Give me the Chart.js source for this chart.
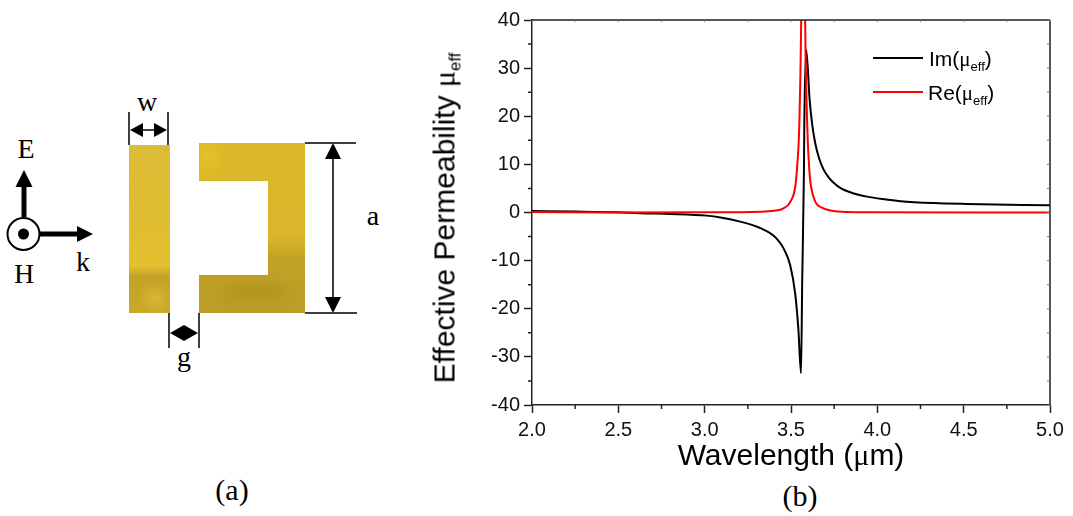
<!DOCTYPE html>
<html>
<head>
<meta charset="utf-8">
<script src="https://cdn.jsdelivr.net/npm/chart.js@4"></script>
<style>
    html, body { margin: 0; padding: 0; background: #fff; }
    #page { position: relative; width: 1073px; height: 516px; overflow: hidden; }
    #chart { position: absolute; left: 0; top: 0; }
    #schematic { position: absolute; left: 0; top: 0; }
    .serif { position: absolute; font-family: "Liberation Serif", serif; font-size: 28px; line-height: 30px; color: #000; transform: translateX(-50%); white-space: nowrap; }
    .caption { font-size: 30px; }
    .sans { position: absolute; font-family: "Liberation Sans", sans-serif; color: #000; white-space: nowrap; }
    .mu { font-family: "Liberation Serif", serif; }
    .sub { font-size: 0.62em; position: relative; top: 0.36em; }
    #yTitle .sub { font-size: 0.56em; }
    .key { position: absolute; height: 2px; width: 50px; left: 873px; }
    #xTitle { left: 791px; top: 437px; font-size: 30px; line-height: 36px; transform: translateX(-50%); }
    #yTitle { left: 447px; top: 217.5px; font-size: 30px; line-height: 36px; transform: translate(-50%, -50%) rotate(-90deg); }
</style>
</head>
<body>
<div id="page">
    <svg id="schematic" width="420" height="516" viewBox="0 0 420 516">
        <defs>
            <linearGradient id="barGold" x1="0" y1="0" x2="0" y2="1">
                <stop offset="0" stop-color="#dcbb38"/>
                <stop offset="0.45" stop-color="#dfbd30"/>
                <stop offset="0.72" stop-color="#e3c02e"/>
                <stop offset="0.78" stop-color="#c3a328"/>
                <stop offset="1" stop-color="#c9a82a"/>
            </linearGradient>
            <linearGradient id="ringGold" x1="0" y1="0" x2="0" y2="1">
                <stop offset="0" stop-color="#dcb92a"/>
                <stop offset="0.55" stop-color="#d9b62a"/>
                <stop offset="0.68" stop-color="#c2a226"/>
                <stop offset="1" stop-color="#bc9d26"/>
            </linearGradient>
            <filter id="soft"><feGaussianBlur stdDeviation="0.6"/></filter>
            <filter id="patch" x="-200%" y="-200%" width="500%" height="500%"><feGaussianBlur stdDeviation="6"/></filter>
            <clipPath id="barClip"><rect x="129" y="145" width="41" height="168"/></clipPath>
            <clipPath id="ringClip"><path d="M199 143H305V313H199V275H268V181H199Z"/></clipPath>
        </defs>
        <g filter="url(#soft)">
            <rect x="129" y="145" width="41" height="168" fill="url(#barGold)"/>
            <path d="M199 143H305V313H199V275H268V181H199Z" fill="url(#ringGold)"/>
        </g>
        <g clip-path="url(#barClip)">
            <ellipse cx="155" cy="298" rx="8" ry="9" fill="#e6c83a" opacity="0.7" filter="url(#patch)"/>
        </g>
        <g clip-path="url(#ringClip)">
            <ellipse cx="208" cy="160" rx="10" ry="14" fill="#e6c82a" opacity="0.6" filter="url(#patch)"/>
            <ellipse cx="255" cy="292" rx="35" ry="8" fill="#a98c1e" opacity="0.6" filter="url(#patch)"/>
        </g>
        <g stroke="#000" stroke-width="1.5" fill="none">
            <path d="M305 143H356M305 313H357M333 155V301"/>
            <path d="M129 112V145M168 112V145M135 130H162"/>
            <path d="M169 313V348M199 313V348"/>
            <circle cx="23.5" cy="234" r="16" stroke-width="2"/>
        </g>
        <g fill="#000">
            <path d="M333 143L341 159H325ZM333 313L341 297H325Z"/>
            <path d="M130 130L143 123V137ZM167 130L154 123V137Z"/>
            <path d="M170 333L184 325L198 333L184 341Z"/>
            <circle cx="23.5" cy="234" r="5.5"/>
            <path d="M21.5 217V186H26.5V217Z"/>
            <path d="M24 170L32.5 187H15.5Z"/>
            <path d="M39 231.5H78V236.5H39Z"/>
            <path d="M93 234L77 242V226Z"/>
        </g>
    </svg>
    <div class="serif" style="left:26px;top:134px">E</div>
    <div class="serif" style="left:24px;top:259px">H</div>
    <div class="serif" style="left:83px;top:247px">k</div>
    <div class="serif" style="left:147px;top:87px">w</div>
    <div class="serif" style="left:184px;top:342px">g</div>
    <div class="serif" style="left:373px;top:201px">a</div>
    <div class="serif caption" style="left:232px;top:475px">(a)</div>
    <div class="serif caption" style="left:800px;top:481px">(b)</div>

    <canvas id="chart" width="1073" height="516"></canvas>

    <div class="sans" id="xTitle">Wavelength (<span class="mu">μ</span>m)</div>
    <div class="sans" id="yTitle">Effective Permeability <span class="mu">μ</span><span class="sub">eff</span></div>

    <div class="key" style="top:57px;background:#000"></div>
    <div class="key" style="top:91px;background:#f00"></div>
    <div class="sans" style="left:929px;top:46px;font-size:21px;line-height:26px">Im(<span class="mu">μ</span><span class="sub">eff</span>)</div>
    <div class="sans" style="left:928px;top:80px;font-size:21px;line-height:26px">Re(<span class="mu">μ</span><span class="sub">eff</span>)</div>
</div>

<script>
const seriesNames = ['Im(μeff)', 'Re(μeff)'];

const imWavelength = [2.0, 2.25, 2.5, 2.626, 2.8, 3.012, 3.1, 3.205, 3.3, 3.35, 3.398, 3.43, 3.456, 3.495, 3.524, 3.543, 3.558, 3.565, 3.575, 3.577, 3.588, 3.608, 3.623, 3.641, 3.665, 3.689, 3.72, 3.747, 3.79, 3.843, 3.89, 3.94, 4.03, 4.133, 4.325, 4.52, 5.0];
const imValues = [0.3, 0.2, 0.03, -0.17, -0.3, -0.65, -1.1, -1.9, -2.9, -3.7, -4.8, -6, -7.4, -10.9, -16.8, -24.4, -33.4, -14, 8.8, 18, 33.8, 23.4, 18.2, 14.3, 11, 8.9, 7.2, 6.2, 5, 4.2, 3.7, 3.3, 2.8, 2.35, 1.95, 1.77, 1.5];

const reWavelength = [2.0, 2.5, 3.0, 3.322, 3.399, 3.457, 3.496, 3.525, 3.534, 3.548, 3.559, 3.565, 3.571, 3.577, 3.582, 3.594, 3.606, 3.616, 3.641, 3.679, 3.737, 3.824, 3.959, 5.0];
const reValues = [0.1, 0.0, 0.03, 0.17, 0.37, 0.87, 2.2, 5.4, 8.8, 18.2, 40, 65, 81, 65, 40, 18.2, 8.8, 5.4, 2.2, 1.0, 0.37, 0.1, 0.04, 0.0];

const xMinorTicks = [2.25, 2.75, 3.25, 3.75, 4.25, 4.75];
const yMinorTicks = [-35, -25, -15, -5, 5, 15, 25, 35];

function toPoints(xs, ys) {
    return xs.map((x, i) => ({ x: x, y: ys[i] }));
}

// small ticks and the mirrored ones on the top and right edges
const extraTicks = {
    id: 'extraTicks',
    afterDraw(chart) {
        const ctx = chart.ctx;
        const area = chart.chartArea;
        const xs = chart.scales.x;
        const ys = chart.scales.y;
        ctx.save();
        ctx.strokeStyle = '#222';
        ctx.lineWidth = 1.5;
        ctx.beginPath();
        xMinorTicks.forEach(v => {
            const p = xs.getPixelForValue(v);
            ctx.moveTo(p, area.bottom);
            ctx.lineTo(p, area.bottom + 4);
        });
        yMinorTicks.forEach(v => {
            const p = ys.getPixelForValue(v);
            ctx.moveTo(area.left, p);
            ctx.lineTo(area.left - 4, p);
        });
        ctx.moveTo(area.left, area.top);
        ctx.lineTo(area.right, area.top);
        ctx.moveTo(area.right, area.top);
        ctx.lineTo(area.right, area.bottom);
        ctx.stroke();
        ctx.lineWidth = 1;
        ctx.strokeStyle = '#777';
        ctx.beginPath();
        xs.ticks.map(t => t.value).concat(xMinorTicks).forEach(v => {
            const p = xs.getPixelForValue(v);
            ctx.moveTo(p, area.top);
            ctx.lineTo(p, area.top + 2);
        });
        ys.ticks.map(t => t.value).concat(yMinorTicks).forEach(v => {
            const p = ys.getPixelForValue(v);
            ctx.moveTo(area.right, p);
            ctx.lineTo(area.right - 3, p);
        });
        ctx.stroke();
        ctx.restore();
    }
};

function makeLine(label, xs, ys, color) {
    return {
        label: label,
        data: toPoints(xs, ys),
        borderColor: color,
        borderWidth: 2,
        pointRadius: 0,
        showLine: true,
        cubicInterpolationMode: 'monotone'
    };
}

function init() {
    new Chart(document.getElementById('chart').getContext('2d'), {
        type: 'scatter',
        data: {
            datasets: [
                makeLine(seriesNames[1], reWavelength, reValues, '#ff0000'),
                makeLine(seriesNames[0], imWavelength, imValues, '#000000')
            ]
        },
        plugins: [extraTicks],
        options: {
            responsive: false,
            animation: false,
            layout: { padding: { left: 472, top: 20, right: 23, bottom: 61 } },
            plugins: { legend: { display: false }, tooltip: { enabled: false } },
            scales: {
                x: {
                    type: 'linear',
                    min: 2,
                    max: 5,
                    afterFit: s => { s.height = 50; },
                    border: { color: '#222', width: 1.5 },
                    grid: { drawOnChartArea: false, color: '#222', tickLength: 8, tickWidth: 1.5 },
                    ticks: {
                        stepSize: 0.5,
                        color: '#111',
                        padding: 5,
                        maxRotation: 0,
                        font: { family: '"Liberation Sans"', size: 20 },
                        callback: v => v.toFixed(1)
                    }
                },
                y: {
                    min: -40,
                    max: 40,
                    afterFit: s => { s.width = 60; },
                    border: { color: '#222', width: 1.5 },
                    grid: { drawOnChartArea: false, color: '#222', tickLength: 8, tickWidth: 1.5 },
                    ticks: {
                        stepSize: 10,
                        color: '#111',
                        padding: 4,
                        font: { family: '"Liberation Sans"', size: 20 }
                    }
                }
            }
        }
    });
}

document.addEventListener('DOMContentLoaded', init);
</script>
</body>
</html>
